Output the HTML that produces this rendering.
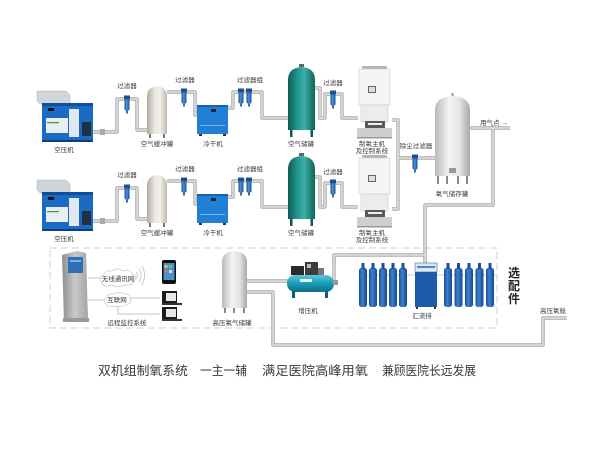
<!DOCTYPE html>
<html><head><meta charset="utf-8">
<style>
html,body{margin:0;padding:0;background:#fff;}
svg{display:block;}
text{font-family:"Liberation Sans","Noto Sans CJK SC",sans-serif;fill:#3a3a3a;}
.l{font-size:6.5px;text-anchor:middle;}
</style></head><body>
<svg width="600" height="450" viewBox="0 0 600 450" xmlns="http://www.w3.org/2000/svg">
<defs>
 <linearGradient id="teal" x1="0" x2="1"><stop offset="0" stop-color="#0e5a55"/><stop offset=".35" stop-color="#23968d"/><stop offset=".6" stop-color="#3cb1a7"/><stop offset="1" stop-color="#0f625c"/></linearGradient>
 <linearGradient id="silver" x1="0" x2="1"><stop offset="0" stop-color="#b9b9b9"/><stop offset=".4" stop-color="#f3f3f3"/><stop offset=".7" stop-color="#e4e4e4"/><stop offset="1" stop-color="#a8a8a8"/></linearGradient>
 <linearGradient id="beige" x1="0" x2="1"><stop offset="0" stop-color="#b3aba1"/><stop offset=".4" stop-color="#ece8e2"/><stop offset=".65" stop-color="#f2efeb"/><stop offset="1" stop-color="#bfb7ad"/></linearGradient>
 <linearGradient id="cyl" x1="0" x2="1"><stop offset="0" stop-color="#1a4d93"/><stop offset=".4" stop-color="#3d82d2"/><stop offset="1" stop-color="#194888"/></linearGradient>
 <linearGradient id="fil" x1="0" x2="1"><stop offset="0" stop-color="#174a8c"/><stop offset=".45" stop-color="#4a92de"/><stop offset="1" stop-color="#174a8c"/></linearGradient>
 <linearGradient id="boost" x1="0" y1="0" x2="0" y2="1"><stop offset="0" stop-color="#5cc8dc"/><stop offset=".5" stop-color="#1a9cb8"/><stop offset="1" stop-color="#0f6f86"/></linearGradient>
 <linearGradient id="kiosk" x1="0" x2="1"><stop offset="0" stop-color="#8e8e8e"/><stop offset=".5" stop-color="#c9c9c9"/><stop offset="1" stop-color="#a5a5a5"/></linearGradient>
</defs>
<rect width="600" height="450" fill="#fff"/>

<!-- dashed option box -->
<rect x="50" y="248" width="447" height="80" fill="none" stroke="#cfcfcf" stroke-width="1" stroke-dasharray="7 4"/>

<!-- main pipes -->
<g fill="none" stroke-linejoin="round">
 <path id="pp" d="M93,132 H117 V99 H137 V130 H147 M167,92 H195 V115 H198 M228,108 H233 V92 H262 V118 H288 M315,88 H320 V118 H325 V94 H342 V118 H358
 M93,221 H117 V188 H137 V219 H147 M167,181 H195 V204 H198 M228,197 H233 V181 H262 V207 H288 M315,177 H320 V207 H325 V183 H342 V207 H358
 M392,120 H398 V209 H392 M398,158 H436 M470,128 H510 M493,128 V205 H425 V264 M334,282 V255 H425
 M247,281 H288 M247,292 H273 V345 H543 V318 H567" stroke="#9a9a9a" stroke-width="3.2"/>
 <path d="M93,132 H117 V99 H137 V130 H147 M167,92 H195 V115 H198 M228,108 H233 V92 H262 V118 H288 M315,88 H320 V118 H325 V94 H342 V118 H358
 M93,221 H117 V188 H137 V219 H147 M167,181 H195 V204 H198 M228,197 H233 V181 H262 V207 H288 M315,177 H320 V207 H325 V183 H342 V207 H358
 M392,120 H398 V209 H392 M398,158 H436 M470,128 H510 M493,128 V205 H425 V264 M334,282 V255 H425
 M247,281 H288 M247,292 H273 V345 H543 V318 H567" stroke="#e6e6e6" stroke-width="1.5"/>
</g>

<!-- ROW 1 -->
<g>
 <!-- compressor -->
 <path d="M37,91 L66,91 L70,95 L70,104 L40,104 L37,101 Z" fill="#d0d5d9" stroke="#aeb3b7" stroke-width=".5"/>
 <rect x="42" y="103" width="51" height="39" fill="#1b6ac4"/>
 <rect x="42" y="103" width="51" height="3" fill="#0f4f9a"/>
 <rect x="46" y="118" width="22" height="15" fill="#e9eef2"/>
 <rect x="47" y="122" width="12" height="1.2" fill="#3a9a4a"/>
 <rect x="69" y="109" width="10" height="28" fill="#e1e9f0"/>
 <rect x="82" y="122" width="9" height="14" fill="#203040"/>
 <rect x="48" y="108" width="6" height="3" fill="#111"/>
 <rect x="42" y="140" width="51" height="2" fill="#0c3f7c"/>
 <rect x="100" y="129" width="5" height="6" fill="#aaa"/>
 <!-- filters -->
 <rect x="124" y="95.5" width="6" height="4" fill="#1d4f8f"/><rect x="124.5" y="99.5" width="5" height="11" rx="1.5" fill="url(#fil)"/><rect x="126.2" y="110.5" width="1.6" height="3" fill="#17457e"/>
 <rect x="181" y="88.5" width="6" height="4" fill="#1d4f8f"/><rect x="181.5" y="92.5" width="5" height="11" rx="1.5" fill="url(#fil)"/><rect x="183.2" y="103.5" width="1.6" height="3" fill="#17457e"/>
 <rect x="238" y="88.5" width="6" height="4" fill="#1d4f8f"/><rect x="238.5" y="92.5" width="5" height="11" rx="1.5" fill="url(#fil)"/><rect x="240.2" y="103.5" width="1.6" height="3" fill="#17457e"/>
 <rect x="246" y="88.5" width="6" height="4" fill="#1d4f8f"/><rect x="246.5" y="92.5" width="5" height="11" rx="1.5" fill="url(#fil)"/><rect x="248.2" y="103.5" width="1.6" height="3" fill="#17457e"/>
 <rect x="330" y="90.5" width="6" height="4" fill="#1d4f8f"/><rect x="330.5" y="94.5" width="5" height="11" rx="1.5" fill="url(#fil)"/><rect x="332.2" y="105.5" width="1.6" height="3" fill="#17457e"/>
 <!-- buffer tank -->
 <path d="M147,97 Q147,87 157,86 Q167,87 167,97 V134 H147 Z" fill="url(#beige)"/>
 <rect x="149" y="134" width="2" height="4" fill="#777"/><rect x="163" y="134" width="2" height="4" fill="#777"/>
 <!-- dryer -->
 <rect x="197" y="105" width="31" height="29" fill="#1f80d6"/>
 <rect x="197" y="105" width="31" height="2" fill="#1563b0"/>
 <rect x="211" y="109" width="5" height="3" fill="#222"/>
 <rect x="200" y="125" width="25" height="1" fill="#7fb8ea"/>
 <rect x="199" y="134" width="3" height="2" fill="#333"/><rect x="223" y="134" width="3" height="2" fill="#333"/>
 <!-- teal tank -->
 <path d="M288,80 Q288,68 301.5,67 Q315,68 315,80 V130 H288 Z" fill="url(#teal)"/>
 <rect x="290" y="130" width="2.5" height="7" fill="#0e5a55"/><rect x="310.5" y="130" width="2.5" height="7" fill="#0e5a55"/>
 <rect x="299" y="64" width="5" height="3" fill="#666"/>
 <!-- generator -->
 <rect x="362" y="66" width="25" height="3" rx="1" fill="#b5b5b5"/>
 <rect x="359" y="69" width="31" height="36" fill="#f4f4f4" stroke="#cdcdcd" stroke-width=".6"/>
 <rect x="368" y="86" width="8" height="7" fill="#666"/><rect x="369" y="87" width="6" height="5" fill="#dedede"/>
 <rect x="361" y="105" width="27" height="17" fill="#ececec" stroke="#cdcdcd" stroke-width=".6"/>
 <rect x="365" y="121" width="20" height="7" fill="#5a5a5a"/>
 <rect x="368" y="123" width="14" height="2" fill="#eee"/>
 <rect x="357" y="128" width="35" height="10" fill="#cfcfcf"/>
 <rect x="357" y="137" width="35" height="1.5" fill="#999"/>
 <!-- labels -->
 <text class="l" x="64" y="152">空压机</text>
 <text class="l" x="127" y="88">过滤器</text>
 <text class="l" x="157" y="146">空气缓冲罐</text>
 <text class="l" x="185" y="82">过滤器</text>
 <text class="l" x="213" y="146">冷干机</text>
 <text class="l" x="250" y="82">过滤器组</text>
 <text class="l" x="301" y="146">空气储罐</text>
 <text class="l" x="333" y="85">过滤器</text>
 <text class="l" x="372" y="146">制氧主机</text>
 <text class="l" x="372" y="153">及控制系统</text>
</g>

<!-- ROW 2 -->
<g transform="translate(0,89)">
 <path d="M37,91 L66,91 L70,95 L70,104 L40,104 L37,101 Z" fill="#d0d5d9" stroke="#aeb3b7" stroke-width=".5"/>
 <rect x="42" y="103" width="51" height="39" fill="#1b6ac4"/>
 <rect x="42" y="103" width="51" height="3" fill="#0f4f9a"/>
 <rect x="46" y="118" width="22" height="15" fill="#e9eef2"/>
 <rect x="47" y="122" width="12" height="1.2" fill="#3a9a4a"/>
 <rect x="69" y="109" width="10" height="28" fill="#e1e9f0"/>
 <rect x="82" y="122" width="9" height="14" fill="#203040"/>
 <rect x="48" y="108" width="6" height="3" fill="#111"/>
 <rect x="42" y="140" width="51" height="2" fill="#0c3f7c"/>
 <rect x="100" y="129" width="5" height="6" fill="#aaa"/>
 <rect x="124" y="95.5" width="6" height="4" fill="#1d4f8f"/><rect x="124.5" y="99.5" width="5" height="11" rx="1.5" fill="url(#fil)"/><rect x="126.2" y="110.5" width="1.6" height="3" fill="#17457e"/>
 <rect x="181" y="88.5" width="6" height="4" fill="#1d4f8f"/><rect x="181.5" y="92.5" width="5" height="11" rx="1.5" fill="url(#fil)"/><rect x="183.2" y="103.5" width="1.6" height="3" fill="#17457e"/>
 <rect x="238" y="88.5" width="6" height="4" fill="#1d4f8f"/><rect x="238.5" y="92.5" width="5" height="11" rx="1.5" fill="url(#fil)"/><rect x="240.2" y="103.5" width="1.6" height="3" fill="#17457e"/>
 <rect x="246" y="88.5" width="6" height="4" fill="#1d4f8f"/><rect x="246.5" y="92.5" width="5" height="11" rx="1.5" fill="url(#fil)"/><rect x="248.2" y="103.5" width="1.6" height="3" fill="#17457e"/>
 <rect x="330" y="90.5" width="6" height="4" fill="#1d4f8f"/><rect x="330.5" y="94.5" width="5" height="11" rx="1.5" fill="url(#fil)"/><rect x="332.2" y="105.5" width="1.6" height="3" fill="#17457e"/>
 <path d="M147,97 Q147,87 157,86 Q167,87 167,97 V134 H147 Z" fill="url(#beige)"/>
 <rect x="149" y="134" width="2" height="4" fill="#777"/><rect x="163" y="134" width="2" height="4" fill="#777"/>
 <rect x="197" y="105" width="31" height="29" fill="#1f80d6"/>
 <rect x="197" y="105" width="31" height="2" fill="#1563b0"/>
 <rect x="211" y="109" width="5" height="3" fill="#222"/>
 <rect x="200" y="125" width="25" height="1" fill="#7fb8ea"/>
 <rect x="199" y="134" width="3" height="2" fill="#333"/><rect x="223" y="134" width="3" height="2" fill="#333"/>
 <path d="M288,80 Q288,68 301.5,67 Q315,68 315,80 V130 H288 Z" fill="url(#teal)"/>
 <rect x="290" y="130" width="2.5" height="7" fill="#0e5a55"/><rect x="310.5" y="130" width="2.5" height="7" fill="#0e5a55"/>
 <rect x="299" y="64" width="5" height="3" fill="#666"/>
 <rect x="362" y="66" width="25" height="3" rx="1" fill="#b5b5b5"/>
 <rect x="359" y="69" width="31" height="36" fill="#f4f4f4" stroke="#cdcdcd" stroke-width=".6"/>
 <rect x="368" y="86" width="8" height="7" fill="#666"/><rect x="369" y="87" width="6" height="5" fill="#dedede"/>
 <rect x="361" y="105" width="27" height="17" fill="#ececec" stroke="#cdcdcd" stroke-width=".6"/>
 <rect x="365" y="121" width="20" height="7" fill="#5a5a5a"/>
 <rect x="368" y="123" width="14" height="2" fill="#eee"/>
 <rect x="357" y="128" width="35" height="10" fill="#cfcfcf"/>
 <rect x="357" y="137" width="35" height="1.5" fill="#999"/>
 <text class="l" x="64" y="152">空压机</text>
 <text class="l" x="127" y="88">过滤器</text>
 <text class="l" x="157" y="146">空气缓冲罐</text>
 <text class="l" x="185" y="82">过滤器</text>
 <text class="l" x="213" y="146">冷干机</text>
 <text class="l" x="250" y="82">过滤器组</text>
 <text class="l" x="301" y="146">空气储罐</text>
 <text class="l" x="333" y="85">过滤器</text>
 <text class="l" x="372" y="146">制氧主机</text>
 <text class="l" x="372" y="153">及控制系统</text>
</g>

<!-- dust filter -->
<rect x="412" y="154.5" width="6" height="4" fill="#1d4f8f"/><rect x="412.5" y="158.5" width="5" height="11" rx="1.5" fill="url(#fil)"/><rect x="414.2" y="169.5" width="1.6" height="3" fill="#17457e"/>
<text class="l" x="416" y="148">除尘过滤器</text>

<!-- oxygen storage tank -->
<path d="M435,110 Q435,97 452.5,96 Q470,97 470,110 V176 H435 Z" fill="url(#silver)"/>
<rect x="451.5" y="93" width="2" height="3" fill="#999"/>
<rect x="437" y="176" width="2" height="8" fill="#888"/><rect x="446" y="176" width="2" height="8" fill="#888"/>
<rect x="457" y="176" width="2" height="8" fill="#888"/><rect x="466" y="176" width="2" height="8" fill="#888"/>
<rect x="449" y="168" width="7" height="5" fill="#999"/>
<text class="l" x="452" y="196">氧气储存罐</text>
<text x="480" y="125" style="font-size:6.5px">用气点 →</text>

<!-- kiosk -->
<path d="M62,255 L77,251 L86,253 L88,319 L64,322 Z" fill="url(#kiosk)"/>
<rect x="68" y="257" width="15" height="16" fill="#2f6fb3"/>
<rect x="70" y="260" width="11" height="2" fill="#7fb3e6"/>
<rect x="63" y="318" width="26" height="4" fill="#999"/>
<!-- network lines -->
<g stroke="#9cc98c" stroke-width=".8" fill="none">
 <path d="M88,278 H101 M88,300 H105 M130,298 H160 M118,306 V314 H160"/>
</g>
<!-- clouds -->
<g fill="#fff" stroke="#c6c6c6" stroke-width=".7">
 <path d="M102,283 Q98,278 104,275 Q105,270 112,271 Q117,267 123,271 Q130,269 132,274 Q138,276 134,281 Q133,286 125,285 Q118,288 111,285 Q103,288 102,283 Z"/>
 <path d="M106,304 Q102,300 107,297 Q108,293 114,294 Q119,291 124,294 Q130,293 130,298 Q133,302 128,304 Q122,308 115,306 Q108,308 106,304 Z"/>
</g>
<g stroke="#c0c0c0" stroke-width=".8" fill="none">
 <path d="M136,272 Q139,275 136,279 M139,269 Q143,275 139,282 M142,266 Q147,275 142,285"/>
</g>
<text class="l" x="118" y="281">无线通讯网</text>
<text class="l" x="117" y="302">互联网</text>
<text class="l" x="127" y="325">远程监控系统</text>
<!-- phone -->
<rect x="162" y="260" width="14" height="24" rx="2" fill="#111"/>
<rect x="163.5" y="263" width="11" height="17" fill="#4a8fd0"/>
<rect x="164.5" y="265" width="3" height="3" fill="#f0c040"/><rect x="169" y="265" width="3" height="3" fill="#6c6"/>
<rect x="164.5" y="270" width="3" height="3" fill="#e66"/><rect x="169" y="270" width="3" height="3" fill="#ddd"/>
<!-- computers -->
<rect x="162" y="291" width="15" height="12" fill="#1c1c1c"/><rect x="166" y="293" width="10" height="8" fill="#e8e8e8"/><rect x="162" y="303" width="20" height="2" fill="#333"/>
<rect x="162" y="307" width="15" height="12" fill="#1c1c1c"/><rect x="166" y="309" width="10" height="8" fill="#e8e8e8"/><rect x="162" y="319" width="20" height="2" fill="#333"/>

<!-- high pressure tank -->
<path d="M222,262 Q222,252 234.5,251 Q247,252 247,262 V308 H222 Z" fill="url(#silver)"/>
<rect x="224" y="308" width="2" height="5" fill="#888"/><rect x="233" y="308" width="2" height="5" fill="#888"/><rect x="243" y="308" width="2" height="5" fill="#888"/>
<text class="l" x="232" y="325">高压氧气储罐</text>

<!-- booster -->
<rect x="287" y="275" width="47" height="17" rx="8" fill="url(#boost)"/>
<rect x="300" y="279" width="12" height="3" fill="#e0f4f8"/>
<rect x="291" y="266" width="13" height="9" fill="#2a2a2a"/>
<rect x="305" y="262" width="13" height="13" fill="#3c3c3c"/>
<rect x="307" y="264" width="4" height="4" fill="#bbb"/>
<rect x="318" y="268" width="6" height="7" fill="#777"/>
<rect x="292" y="291" width="3" height="7" fill="#0f5f72"/><rect x="325" y="291" width="3" height="7" fill="#0f5f72"/>
<rect x="333" y="280" width="5" height="5" fill="#999"/>
<text class="l" x="308" y="313">增压机</text>

<!-- cylinders -->
<line x1="358" y1="275" x2="496" y2="275" stroke="#8a9ab0" stroke-width=".6"/>
<g fill="url(#cyl)">
 <rect x="359" y="268" width="8" height="39" rx="2.5"/><rect x="369" y="268" width="8" height="39" rx="2.5"/><rect x="379" y="268" width="8" height="39" rx="2.5"/><rect x="389" y="268" width="8" height="39" rx="2.5"/><rect x="399" y="268" width="8" height="39" rx="2.5"/>
 <rect x="444" y="268" width="8" height="39" rx="2.5"/><rect x="454.5" y="268" width="8" height="39" rx="2.5"/><rect x="465" y="268" width="8" height="39" rx="2.5"/><rect x="475.5" y="268" width="8" height="39" rx="2.5"/><rect x="486" y="268" width="8" height="39" rx="2.5"/>
</g>
<g fill="#1d4e92">
 <rect x="361.5" y="263" width="3" height="6"/><rect x="371.5" y="263" width="3" height="6"/><rect x="381.5" y="263" width="3" height="6"/><rect x="391.5" y="263" width="3" height="6"/><rect x="401.5" y="263" width="3" height="6"/>
 <rect x="446.5" y="263" width="3" height="6"/><rect x="457" y="263" width="3" height="6"/><rect x="467.5" y="263" width="3" height="6"/><rect x="478" y="263" width="3" height="6"/><rect x="488.5" y="263" width="3" height="6"/>
</g>
<!-- manifold -->
<rect x="415" y="263" width="22" height="9" fill="#dfe7f0" stroke="#3d6fb0" stroke-width=".6"/>
<rect x="417" y="266" width="18" height="2" fill="#5a86c0"/>
<rect x="415" y="272" width="22" height="35" fill="#1f5aa8"/>
<rect x="416" y="307" width="2" height="2" fill="#333"/><rect x="434" y="307" width="2" height="2" fill="#333"/>
<text class="l" x="422" y="318">汇流排</text>

<!-- 选配件 -->
<text x="514" y="277" style="font-size:12px;font-weight:bold;text-anchor:middle;fill:#222">选</text>
<text x="514" y="290" style="font-size:12px;font-weight:bold;text-anchor:middle;fill:#222">配</text>
<text x="514" y="303" style="font-size:12px;font-weight:bold;text-anchor:middle;fill:#222">件</text>

<text class="l" x="553" y="313">高压氧舱</text>

<!-- caption -->
<g style="font-size:12.5px;fill:#222">
 <text x="98" y="375" textLength="90" lengthAdjust="spacingAndGlyphs">双机组制氧系统</text>
 <text x="200" y="375" textLength="47" lengthAdjust="spacingAndGlyphs">一主一辅</text>
 <text x="262" y="375" textLength="106" lengthAdjust="spacingAndGlyphs">满足医院高峰用氧</text>
 <text x="382" y="375" textLength="94" lengthAdjust="spacingAndGlyphs">兼顾医院长远发展</text>
</g>
</svg>
</body></html>
